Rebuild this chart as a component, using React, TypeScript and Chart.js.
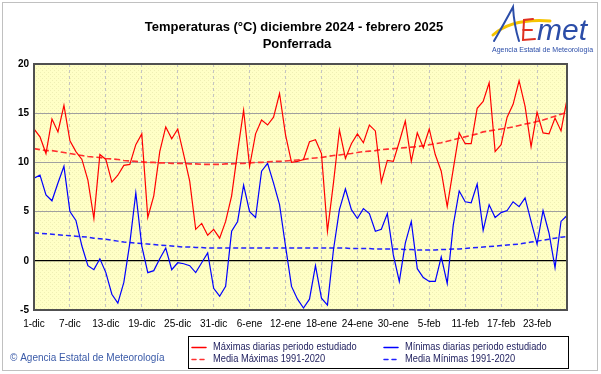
import React, { useEffect, useRef } from 'react';
import { Chart, registerables } from 'chart.js';

Chart.register(...registerables);

const titleLines = ['Temperaturas (°C) diciembre 2024 - febrero 2025', 'Ponferrada'];
const tickLabels = ['1-dic', '7-dic', '13-dic', '19-dic', '25-dic', '31-dic', '6-ene', '12-ene', '18-ene', '24-ene', '30-ene', '5-feb', '11-feb', '17-feb', '23-feb'];
const tickStep = 6;
const dayCount = 90;
const yTicks = [-5, 0, 5, 10, 15, 20];

const maxDaily = [
  13.4, 12.6, 10.9, 14.4, 13.1, 15.8, 12.2, 11.1, 10.3, 8.2,
  4.3, 10.8, 10.3, 8.0, 8.7, 9.7, 9.8, 11.8, 12.9, 4.4,
  6.6, 11.1, 13.6, 12.4, 13.4, 10.8, 8.1, 3.2, 3.8, 2.6,
  3.2, 2.3, 4.0, 6.6, 11.1, 15.3, 9.6, 12.9, 14.3, 13.8,
  14.6, 17.0, 12.8, 10.0, 10.1, 10.3, 12.1, 12.3, 10.9, 3.0,
  7.9, 13.3, 10.4, 11.9, 12.9, 12.0, 13.8, 13.2, 8.0, 10.2,
  10.1, 12.1, 14.2, 10.1, 13.0, 11.5, 13.4, 10.8, 9.1, 5.5,
  9.3, 13.0, 11.9, 11.9, 15.5, 16.2, 18.1, 11.1, 11.8, 14.6,
  15.9, 18.3, 15.7, 11.6, 15.1, 13.0, 12.9, 14.5, 13.2, 16.4,
];

const minDaily = [
  8.4, 8.7, 6.7, 6.1, 7.9, 9.6, 5.0, 4.1, 1.5, -0.5,
  -0.9, 0.2, -1.2, -3.4, -4.3, -2.2, 1.8, 6.9, 1.5, -1.2,
  -1.0, 0.2, 1.3, -0.9, -0.2, -0.3, -0.5, -1.2, -0.2, 0.8,
  -2.8, -3.6, -2.6, 3.0, 4.0, 7.7, 5.0, 4.4, 9.1, 9.9,
  7.9, 5.7, 1.5, -2.6, -3.9, -4.8, -3.9, -0.5, -3.8, -4.5,
  1.1, 5.2, 7.3, 5.2, 4.3, 5.3, 4.8, 3.0, 3.2, 4.8,
  0.6, -2.1, 1.8, 4.0, -0.8, -1.7, -2.1, -2.1, 0.4, -2.3,
  3.6, 7.1, 6.0, 5.9, 7.8, 3.1, 5.7, 4.4, 4.9, 5.1,
  6.0, 5.5, 6.4, 4.0, 1.7, 5.1, 2.8, -0.7, 4.0, 4.6,
];

const meanMax = [
  11.4, 11.3, 11.2, 11.2, 11.1, 11.0, 10.9, 10.8, 10.7, 10.6,
  10.55, 10.5, 10.4, 10.35, 10.3, 10.2, 10.15, 10.1, 10.05, 10.0,
  10.0, 9.95, 9.95, 9.9, 9.9, 9.9, 9.85, 9.85, 9.8, 9.8,
  9.8, 9.8, 9.85, 9.85, 9.9, 9.9, 9.95, 10.0, 10.0, 10.05,
  10.1, 10.1, 10.15, 10.2, 10.25, 10.3, 10.4, 10.45, 10.5, 10.6,
  10.7, 10.75, 10.85, 10.9, 11.0, 11.1, 11.15, 11.2, 11.3, 11.35,
  11.4, 11.45, 11.5, 11.55, 11.6, 11.7, 11.8, 11.9, 12.0, 12.15,
  12.3, 12.45, 12.6, 12.75, 12.9, 13.1, 13.2, 13.3, 13.4, 13.5,
  13.6, 13.75, 13.9, 14.0, 14.15, 14.3, 14.5, 14.7, 14.9, 15.1,
];

const meanMin = [
  2.85, 2.8, 2.75, 2.7, 2.65, 2.6, 2.55, 2.5, 2.45, 2.4,
  2.3, 2.25, 2.2, 2.1, 2.0, 1.9, 1.85, 1.8, 1.75, 1.7,
  1.65, 1.6, 1.55, 1.5, 1.45, 1.4, 1.4, 1.35, 1.35, 1.3,
  1.3, 1.3, 1.3, 1.3, 1.3, 1.3, 1.3, 1.3, 1.3, 1.3,
  1.3, 1.3, 1.3, 1.3, 1.3, 1.3, 1.3, 1.3, 1.3, 1.3,
  1.3, 1.3, 1.3, 1.25, 1.25, 1.25, 1.25, 1.2, 1.2, 1.2,
  1.2, 1.2, 1.15, 1.15, 1.1, 1.1, 1.1, 1.1, 1.15, 1.15,
  1.2, 1.2, 1.25, 1.3, 1.35, 1.4, 1.45, 1.5, 1.55, 1.6,
  1.65, 1.7, 1.8, 1.9, 2.0, 2.1, 2.2, 2.3, 2.4, 2.45,
];

const seriesNames = [
  'Máximas diarias periodo estudiado',
  'Media Máximas 1991-2020',
  'Mínimas diarias periodo estudiado',
  'Media Mínimas 1991-2020',
];
const credit = '© Agencia Estatal de Meteorología';
const logoSub = 'Agencia Estatal de Meteorología';

const FONT = '"Liberation Sans", Arial, sans-serif';

const toPoints = (arr: number[]) => arr.map((v, i) => ({ x: i, y: v }));

function makePattern(ctx: CanvasRenderingContext2D) {
  const c = document.createElement('canvas');
  c.width = 4;
  c.height = 4;
  const p = c.getContext('2d')!;
  p.fillStyle = '#FFFFC6';
  p.fillRect(0, 0, 4, 4);
  p.fillStyle = '#EFEFB4';
  p.fillRect(0, 0, 1, 1);
  p.fillRect(2, 2, 1, 1);
  return ctx.createPattern(c, 'repeat');
}

const decorPlugin = {
  id: 'decor',
  beforeDraw(chart: any) {
    const { ctx, chartArea: a, width, height } = chart;
    ctx.save();
    ctx.fillStyle = '#FFFFFF';
    ctx.fillRect(0, 0, width, height);
    ctx.fillStyle = makePattern(ctx) || '#FFFFC6';
    ctx.fillRect(a.left, a.top, a.right - a.left, a.bottom - a.top);
    ctx.restore();
  },
  afterDraw(chart: any) {
    const { ctx, chartArea: a } = chart;
    ctx.save();
    // outer dotted frame
    ctx.strokeStyle = '#808080';
    ctx.lineWidth = 1;
    ctx.setLineDash([1, 1]);
    ctx.strokeRect(2.5, 2.5, 595, 368);
    ctx.setLineDash([]);
    // plot frame
    ctx.strokeStyle = '#505050';
    ctx.lineWidth = 2;
    ctx.strokeRect(a.left, a.top, a.right - a.left, a.bottom - a.top);

    // title
    ctx.fillStyle = '#000';
    ctx.font = `bold 13px ${FONT}`;
    ctx.textAlign = 'center';
    ctx.textBaseline = 'middle';
    ctx.fillText(titleLines[0], 294, 27);
    ctx.fillText(titleLines[1], 297, 44);

    // logo
    ctx.lineCap = 'round';
    ctx.strokeStyle = '#F5C400';
    ctx.lineWidth = 3;
    ctx.beginPath();
    ctx.moveTo(493, 35);
    ctx.quadraticCurveTo(512, 18, 550, 21);
    ctx.stroke();
    ctx.strokeStyle = '#2B4DA8';
    ctx.lineWidth = 2;
    ctx.beginPath();
    ctx.moveTo(494, 41);
    ctx.quadraticCurveTo(505, 22, 513, 7);
    ctx.quadraticCurveTo(514, 25, 519, 41);
    ctx.stroke();
    ctx.strokeStyle = '#E03020';
    ctx.beginPath();
    ctx.moveTo(533, 19);
    ctx.lineTo(524, 20);
    ctx.lineTo(523, 40);
    ctx.lineTo(535, 39);
    ctx.moveTo(523, 30);
    ctx.lineTo(532, 30);
    ctx.stroke();
    ctx.fillStyle = '#2B4DA8';
    ctx.font = `italic 30px ${FONT}`;
    ctx.textAlign = 'left';
    ctx.textBaseline = 'alphabetic';
    ctx.fillText('met', 537, 40);
    ctx.font = `7px ${FONT}`;
    ctx.fillText(logoSub, 492, 52);

    // credit
    ctx.fillStyle = '#3A5AA8';
    ctx.font = `10px ${FONT}`;
    ctx.textBaseline = 'middle';
    ctx.fillText(credit, 10, 358);

    // legend
    ctx.fillStyle = '#FFFFFF';
    ctx.fillRect(188, 336, 380, 32);
    ctx.strokeStyle = '#000';
    ctx.lineWidth = 1;
    ctx.strokeRect(188.5, 336.5, 380, 32);
    const items = [
      { x: 192, y: 347, color: '#FF0000', dash: [] as number[] },
      { x: 192, y: 359, color: '#FF3030', dash: [4, 4] },
      { x: 384, y: 347, color: '#0000FF', dash: [] as number[] },
      { x: 384, y: 359, color: '#2020FF', dash: [4, 4] },
    ];
    ctx.font = `10px ${FONT}`;
    items.forEach((it, i) => {
      ctx.strokeStyle = it.color;
      ctx.lineWidth = 1.5;
      ctx.setLineDash(it.dash);
      ctx.beginPath();
      ctx.moveTo(it.x, it.y + 0.5);
      ctx.lineTo(it.x + 14, it.y + 0.5);
      ctx.stroke();
      ctx.setLineDash([]);
      ctx.fillStyle = '#1C1C5C';
      ctx.save();
      ctx.translate(it.x + 21, it.y);
      ctx.scale(0.93, 1);
      ctx.fillText(seriesNames[i], 0, 0);
      ctx.restore();
    });
    ctx.restore();
  },
};

export default function App() {
  const ref = useRef<HTMLCanvasElement>(null);
  useEffect(() => {
    document.body.style.margin = '0';
    const chart = new Chart(ref.current!, {
      type: 'line',
      data: {
        datasets: [
          { label: seriesNames[0], data: toPoints(maxDaily), borderColor: '#FF0000', borderWidth: 1.2, pointRadius: 0, tension: 0 },
          { label: seriesNames[1], data: toPoints(meanMax), borderColor: '#FF3030', borderWidth: 1.6, borderDash: [6, 3], pointRadius: 0, tension: 0 },
          { label: seriesNames[2], data: toPoints(minDaily), borderColor: '#0000FF', borderWidth: 1.2, pointRadius: 0, tension: 0 },
          { label: seriesNames[3], data: toPoints(meanMin), borderColor: '#2020FF', borderWidth: 1.5, borderDash: [5, 3], pointRadius: 0, tension: 0 },
        ],
      },
      options: {
        animation: false,
        responsive: false,
        devicePixelRatio: 1,
        layout: { padding: { top: 64, right: 34, left: 0, bottom: 0 } },
        plugins: { legend: { display: false }, title: { display: false }, tooltip: { enabled: false } },
        scales: {
          x: {
            type: 'linear',
            min: 0,
            max: dayCount - 1,
            afterBuildTicks: (s: any) => {
              s.ticks = tickLabels.map((_, i) => ({ value: i * tickStep }));
            },
            afterFit: (s: any) => {
              s.height = 64;
            },
            grid: { color: '#C4C4C4', lineWidth: 1, drawTicks: false },
            border: { display: false, dash: [3, 3] },
            ticks: {
              autoSkip: false,
              maxRotation: 0,
              padding: 8,
              color: '#000',
              font: { family: FONT, size: 10 },
              callback: (v: any) => tickLabels[Math.round(Number(v) / tickStep)],
            },
          },
          y: {
            type: 'linear',
            min: -5,
            max: 20,
            afterBuildTicks: (s: any) => {
              s.ticks = yTicks.map((v) => ({ value: v }));
            },
            afterFit: (s: any) => {
              s.width = 34;
            },
            grid: {
              drawTicks: false,
              color: (c: any) => (c.tick && c.tick.value === 0 ? '#000000' : '#A0A0A0'),
              lineWidth: (c: any) => (c.tick && c.tick.value === 0 ? 1.3 : 1),
            },
            border: { display: false },
            ticks: {
              padding: 5,
              color: '#000',
              font: { family: FONT, size: 10, weight: 'bold' },
              callback: (v: any) => String(v),
            },
          },
        },
      },
      plugins: [decorPlugin],
    } as any);
    return () => chart.destroy();
  }, []);
  return (
    <div style={{ width: 601, height: 374 }}>
      <canvas ref={ref} width={601} height={374} style={{ width: 601, height: 374, display: 'block' }} />
    </div>
  );
}
